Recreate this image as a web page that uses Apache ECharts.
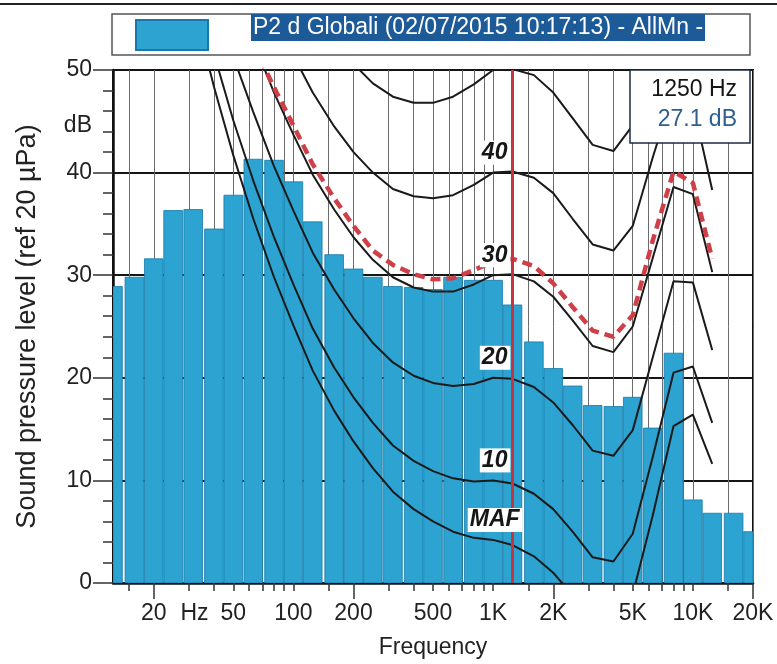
<!DOCTYPE html>
<html>
<head>
<meta charset="utf-8">
<script src="https://cdn.jsdelivr.net/npm/echarts@6/dist/echarts.min.js"></script>
<style>
  html, body { margin: 0; padding: 0; background: #fff; }
  #main { width: 777px; height: 664px; }
</style>
</head>
<body>
<div id="main"></div>
<script>
// third-octave bands of the measurement (Hz) and their levels (dB)
const bandFreqs = [12.5, 16, 20, 25, 31.5, 40, 50, 63, 80, 100,
  125, 160, 200, 250, 315, 400, 500, 630, 800, 1000,
  1250, 1600, 2000, 2500, 3150, 4000, 5000, 6300, 8000, 10000,
  12500, 16000, 20000];
const bandLevels = [28.9, 29.8, 31.6, 36.3, 36.4, 34.5, 37.8, 41.3, 41.2, 39.1,
  35.2, 32.0, 30.6, 29.8, 28.9, 28.8, 28.6, 29.8, 29.5, 29.5,
  27.1, 23.5, 20.9, 19.2, 17.3, 17.2, 18.1, 15.1, 22.4, 8.1,
  6.8, 6.8, 5.0];

// equal loudness curves, read at the third-octave points
const phonFreqs = [20, 25, 31.5, 40, 50, 63, 80, 100, 125, 160, 200, 250, 315, 400, 500,
  630, 800, 1000, 1250, 1600, 2000, 2500, 3150, 4000, 5000, 6300, 8000, 10000, 12500];
const mafLevels = [74.3, 65.0, 56.3, 48.4, 41.7, 35.5, 29.8, 25.1, 20.7, 16.8, 13.8, 11.2, 8.9, 7.2, 6.0,
  5.0, 4.4, 4.2, 3.7, 2.6, 1.0, -1.2, -3.6, -3.9, -1.1, 6.6, 15.3, 16.4, 11.6];
const phon10 = [76.8, 67.7, 59.2, 51.6, 45.1, 39.2, 33.7, 29.1, 24.8, 21.0, 18.1, 15.6, 13.4, 11.9, 10.9,
  10.2, 9.9, 10.0, 9.7, 8.7, 7.2, 5.0, 2.5, 2.1, 4.8, 12.3, 20.5, 21.1, 15.6];
const phon20 = [81.4, 72.6, 64.4, 57.2, 51.3, 45.9, 40.6, 36.3, 32.2, 28.6, 25.8, 23.4, 21.5, 20.2, 19.5,
  19.2, 19.4, 20.0, 19.9, 19.1, 17.6, 15.4, 12.9, 12.4, 14.9, 22.0, 29.4, 29.3, 22.7];
const phon30 = [86.1, 77.7, 69.8, 63.1, 57.7, 52.8, 47.8, 43.7, 39.8, 36.4, 33.7, 31.5, 29.8, 28.8, 28.4,
  28.4, 29.1, 30.0, 30.1, 29.4, 27.9, 25.6, 23.1, 22.5, 25.0, 31.7, 38.6, 37.9, 30.3];
const phon40 = [91.2, 83.1, 75.6, 69.3, 64.5, 59.9, 55.2, 51.4, 47.8, 44.5, 42.0, 40.0, 38.4, 37.7, 37.5,
  37.8, 38.8, 40.0, 40.1, 39.5, 38.0, 35.5, 33.0, 32.4, 34.8, 41.5, 47.9, 46.7, 38.3];
const phon50 = [96.5, 88.8, 81.6, 75.7, 71.6, 67.4, 62.9, 59.3, 56.0, 53.0, 50.6, 48.7, 47.4, 46.8, 46.8,
  47.4, 48.6, 50.0, 50.1, 49.5, 47.8, 45.3, 42.7, 42.1, 44.6, 51.2, 57.3, 55.9, 46.8];

// loudness curve of the spectrum (red dashed)
const loudFreqs = [63, 80, 100, 125, 160, 200, 250, 315, 400, 500, 630, 800, 1000,
  1250, 1600, 2000, 2500, 3150, 4000, 5000, 6300, 8000, 10000, 12500];
const loudLevels = [52.5, 48.3, 44.6, 40.8, 37.5, 34.8, 32.4, 31.0, 30.1, 29.6, 29.7, 30.5, 31.3,
  31.6, 30.9, 29.2, 26.9, 24.6, 24.0, 26.1, 33.4, 40.1, 39.0, 31.6];

// frequency axis ticks / labels
const tickFreqs = [15, 20, 30, 40, 50, 60, 70, 80, 90, 100, 150, 200, 300, 400, 500, 600, 700, 800, 900,
  1000, 1500, 2000, 3000, 4000, 5000, 6000, 7000, 8000, 9000, 10000, 15000, 20000];
const longTickFreqs = [20, 200, 2000, 20000];
const labelFreqs = [20, 32, 50, 100, 200, 500, 1000, 2000, 5000, 10000, 20000];
const labelTexts = ['20', 'Hz', '50', '100', '200', '500', '1K', '2K', '5K', '10K', '20K'];

const seriesName = 'P2 d Globali (02/07/2015 10:17:13) - AllMn -';
const cursorFreq = 1250;

const FONT = '"Liberation Sans", Arial, sans-serif';
const lg = Math.log10;
const fMin = 12.5, fMax = 20000;
const halfBand = Math.pow(2, 1 / 6);   // third-octave band edge factor

let myChart = echarts.init(document.getElementById('main'));

function pairs(xs, ys) {
  return xs.map((x, i) => [x, ys[i]]);
}

// one rect per band, from lower to upper band edge, clipped to the grid
function renderBand(params, api) {
  const f = api.value(0);
  const v = api.value(1);
  const top = api.coord([f / halfBand, v]);
  const bottom = api.coord([f * halfBand, 0]);
  const cs = params.coordSys;
  const rect = echarts.graphic.clipRectByRect(
    { x: top[0] + 0.7, y: top[1], width: bottom[0] - top[0] - 1.4, height: bottom[1] - top[1] },
    { x: cs.x, y: cs.y, width: cs.width, height: cs.height }
  );
  if (!rect) return null;
  return {
    type: 'rect',
    shape: rect,
    style: { fill: '#2ca3d1', stroke: '#1878a8', lineWidth: 0.8 }
  };
}

const at1k = phonFreqs.indexOf(1000);
const contours = [
  { name: 'MAF', values: mafLevels, tag: 'MAF' },
  { name: '10 phon', values: phon10, tag: '10' },
  { name: '20 phon', values: phon20, tag: '20' },
  { name: '30 phon', values: phon30, tag: '30' },
  { name: '40 phon', values: phon40, tag: '40' },
  { name: '50 phon', values: phon50, tag: null }
];

const contourSeries = contours.map(c => {
  const s = {
    name: c.name,
    type: 'line',
    xAxisIndex: 0,
    data: pairs(phonFreqs, c.values),
    symbol: 'none',
    z: 3,
    lineStyle: { color: '#1a1a1a', width: 2 }
  };
  if (c.tag) {
    s.markPoint = {
      symbol: 'rect',
      symbolSize: 1,
      itemStyle: { color: 'rgba(0,0,0,0)' },
      label: {
        show: true,
        position: 'inside',
        offset: [2, -20],
        formatter: c.tag,
        fontSize: 23,
        fontWeight: 'bold',
        fontStyle: 'italic',
        fontFamily: FONT,
        color: '#161616',
        backgroundColor: '#fff',
        padding: [1, 3, 0, 2]
      },
      data: [{ coord: [1000, c.values[at1k]] }]
    };
  }
  return s;
});

const cursorLevel = bandLevels[bandFreqs.indexOf(cursorFreq)];

let option = {
  animation: false,
  backgroundColor: '#fff',
  textStyle: { fontFamily: FONT },
  grid: {
    left: 113, right: 24, top: 70, bottom: 81,
    show: true, borderColor: '#111', borderWidth: 2, backgroundColor: '#fff'
  },
  legend: {
    data: [seriesName],
    left: 135, top: 14, padding: 0,
    itemWidth: 72, itemHeight: 30, icon: 'rect',
    formatter: n => '{g|}{t|' + n + '}',
    textStyle: {
      rich: {
        g: { width: 38, height: 42 },
        t: {
          fontSize: 23, color: '#fff', backgroundColor: '#1d5a98',
          padding: [2, 2, 2, 2], lineHeight: 26, verticalAlign: 'top', fontFamily: FONT
        }
      }
    }
  },
  xAxis: [
    { type: 'log', logBase: 10, min: fMin, max: fMax, show: false },
    {
      type: 'value', position: 'bottom', min: lg(fMin), max: lg(fMax),
      name: 'Frequency', nameLocation: 'middle', nameGap: 53,
      nameTextStyle: { fontSize: 23, color: '#222', fontFamily: FONT },
      axisLine: { show: true, lineStyle: { color: '#111', width: 2.5 } },
      axisTick: { show: true, customValues: tickFreqs.map(lg), length: 8, lineStyle: { color: '#333', width: 1.5 } },
      axisLabel: {
        show: true, customValues: labelFreqs.map(lg), margin: 19,
        fontSize: 23, color: '#222', fontFamily: FONT,
        formatter: v => {
          const i = labelFreqs.findIndex(f => Math.abs(lg(f) - v) < 1e-6);
          return i < 0 ? '' : labelTexts[i];
        }
      },
      splitLine: { show: true, lineStyle: { color: '#6b6b6b', width: 1 } }
    },
    {
      type: 'value', position: 'bottom', min: lg(fMin), max: lg(fMax),
      axisLine: { show: false },
      axisTick: { show: true, customValues: longTickFreqs.map(lg), length: 16, lineStyle: { color: '#333', width: 1.5 } },
      axisLabel: { show: false },
      splitLine: { show: false }
    }
  ],
  yAxis: {
    type: 'value', min: 0, max: 50, interval: 10,
    name: 'Sound pressure level (ref 20 µPa)', nameLocation: 'middle', nameGap: 72,
    nameTextStyle: { fontSize: 27, color: '#222', fontFamily: FONT },
    axisLine: { show: true, lineStyle: { color: '#111', width: 2.5 } },
    axisTick: { length: 20, lineStyle: { color: '#333', width: 1.5 } },
    minorTick: { show: true, splitNumber: 5, length: 10, lineStyle: { color: '#333', width: 1.5 } },
    axisLabel: { fontSize: 23, margin: 21, color: '#222', fontFamily: FONT },
    splitLine: { show: true, lineStyle: { color: '#151515', width: 2 } }
  },
  series: [
    {
      name: seriesName,
      type: 'custom',
      xAxisIndex: 0,
      data: pairs(bandFreqs, bandLevels),
      encode: { x: 0, y: 1 },
      clip: true,
      z: 2,
      itemStyle: { color: '#2ca3d1', borderColor: '#1878a8', borderWidth: 0.8 },
      renderItem: renderBand
    },
    ...contourSeries,
    {
      name: 'Loudness',
      type: 'line',
      xAxisIndex: 0,
      data: pairs(loudFreqs, loudLevels),
      symbol: 'none',
      z: 4,
      lineStyle: { color: '#cf3f48', width: 4.5, type: [10, 6] },
      markLine: {
        silent: true,
        symbol: ['none', 'none'],
        label: { show: false },
        lineStyle: { color: '#c8343e', width: 3, type: 'solid' },
        data: [{ xAxis: cursorFreq }]
      }
    }
  ],
  graphic: [
    { type: 'line', shape: { x1: 0, y1: 4, x2: 777, y2: 4 }, style: { stroke: '#222', lineWidth: 2 } },
    { type: 'rect', shape: { x: 112, y: 14, width: 638, height: 41 }, style: { fill: '#fff', stroke: '#555', lineWidth: 1.5 } },
    {
      type: 'text', x: 92, y: 126,
      style: { text: 'dB', fill: '#222', font: '23px ' + FONT, align: 'right', verticalAlign: 'middle', textAlign: 'right', textVerticalAlign: 'middle' }
    },
    {
      type: 'group', z: 100,
      children: [
        { type: 'rect', z: 100, shape: { x: 630, y: 70, width: 120, height: 73 }, style: { fill: '#fff', stroke: '#1c2c44', lineWidth: 1.5 } },
        {
          type: 'text', z: 101, x: 737, y: 90,
          style: { text: cursorFreq + ' Hz', fill: '#161616', font: '23px ' + FONT, align: 'right', verticalAlign: 'middle', textAlign: 'right', textVerticalAlign: 'middle' }
        },
        {
          type: 'text', z: 101, x: 737, y: 120,
          style: { text: cursorLevel.toFixed(1) + ' dB', fill: '#2f5f8f', font: '23px ' + FONT, align: 'right', verticalAlign: 'middle', textAlign: 'right', textVerticalAlign: 'middle' }
        }
      ]
    }
  ]
};

myChart.setOption(option);
</script>
</body>
</html>
